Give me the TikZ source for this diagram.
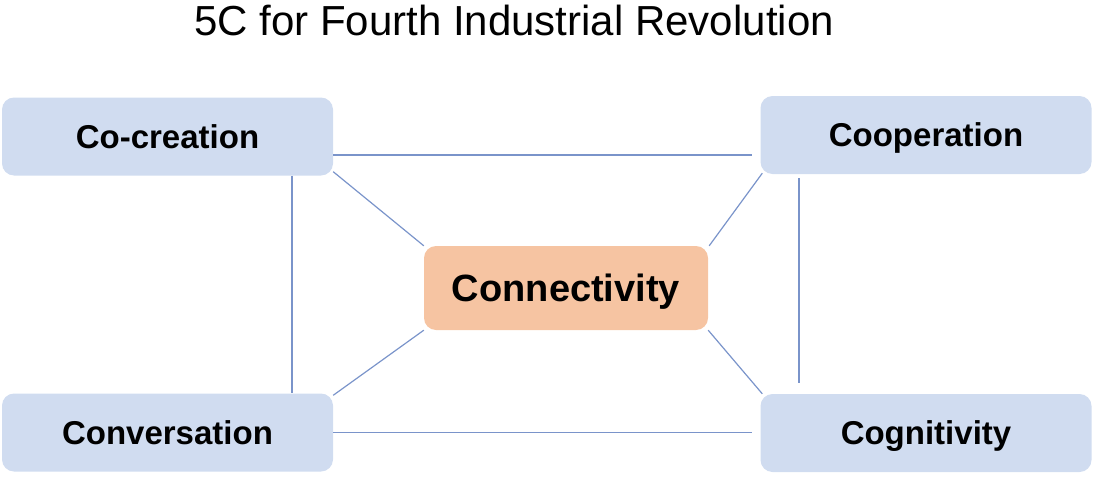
\documentclass[tikz,border=0pt]{standalone}
\usepackage{fontspec}
\setmainfont{Liberation Sans}
\usetikzlibrary{calc}
\definecolor{boxblue}{RGB}{208,220,240}
\definecolor{boxorange}{RGB}{246,196,162}
\definecolor{linkblue}{RGB}{122,148,202}
\begin{document}
\begin{tikzpicture}[x=1pt,y=-1pt,
  cbox/.style={rounded corners=12pt, fill=boxblue, inner sep=0pt,
    minimum width=331pt, minimum height=78pt,
    font=\fontsize{33}{40}\selectfont\bfseries, text height=23.6pt, text depth=0pt},
  hubbox/.style={rounded corners=12pt, fill=boxorange, inner sep=0pt,
    minimum width=284pt, minimum height=84pt,
    font=\fontsize{38}{46}\selectfont\bfseries, text height=27.2pt, text depth=0pt},
  link/.style={draw=linkblue, line width=1.2pt}]
\useasboundingbox (0,0) rectangle (1101,479);
\node[anchor=base, font=\fontsize{42}{50}\selectfont] (title) at (514,35) {5C for Fourth Industrial Revolution};
\node[cbox] (cocr) at (167.5,136.5) {Co-creation};
\node[cbox] (coop) at (926,135) {Cooperation};
\node[cbox] (conv) at (167.5,432.5) {Conversation};
\node[cbox] (cogn) at (926,433) {Cognitivity};
\node[hubbox] (conn) at (566,288) {Connectivity};
% rectangle edges
\draw[link, shorten >=8pt] ($(cocr.east)+(0,18.5)$) -- ($(coop.west |- cocr.east)+(0,18.5)$);
\draw[link, shorten >=8pt] (conv.east) -- (conv.east -| cogn.west);
\draw[link] ($(cocr.south)+(124.5,0)$) -- ($(conv.north -| cocr.south)+(124.5,0)$);
\draw[link, shorten <=4pt, shorten >=11pt] ($(coop.south)+(-127,0)$) -- ($(cogn.north -| coop.south)+(-127,0)$);
% diagonals to hub
\draw[link] ($(cocr.south east)+(0,-4)$) -- (conn.north west);
\draw[link] ($(coop.south west)+(2,-1)$) -- ($(conn.north east)+(1,0)$);
\draw[link] ($(conv.north east)+(0,2)$) -- (conn.south west);
\draw[link] ($(cogn.north west)+(2,0)$) -- (conn.south east);
\end{tikzpicture}
\end{document}
